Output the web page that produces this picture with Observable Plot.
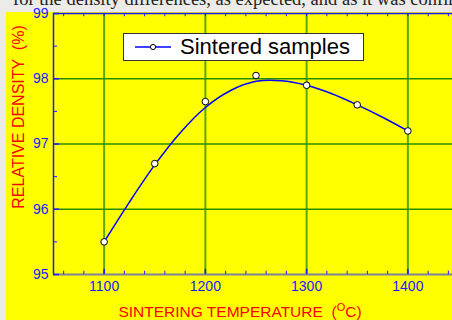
<!DOCTYPE html>
<html>
<head>
<meta charset="utf-8">
<script src="https://cdn.jsdelivr.net/npm/d3@7"></script>
<script src="https://cdn.jsdelivr.net/npm/@observablehq/plot@0.6"></script>
<style>
  html, body { margin: 0; padding: 0; width: 452px; height: 320px; overflow: hidden; background: #ecebe7; }
  #caption { position: absolute; left: 13px; top: -10px; font: 18.5px "Liberation Serif", serif; line-height: 18px; color: #222; white-space: nowrap; }
  #panel { position: absolute; left: 6px; top: 12px; width: 446px; height: 308px; background: #ffff00; }
  #chart { position: absolute; left: 0; top: 0; width: 452px; }
  #chart svg { overflow: visible; background: transparent; max-width: none !important; }
  #legend { position: absolute; left: 117px; top: 21px; width: 239px; height: 26px; background: #fff; border: 1px solid #333; font: 22px Arial, "Liberation Sans", sans-serif; color: #000; }
  #legend svg { position: absolute; left: 11px; top: 6px; }
  #legend span { position: absolute; left: 56px; top: 0px; line-height: 26px; }
  #ytitle { position: absolute; left: 13px; top: 105px; transform: translate(-50%, -50%) rotate(-90deg); font: 16px Arial, "Liberation Sans", sans-serif; color: #ff0000; white-space: pre; }
  #xtitle { position: absolute; left: 234px; top: 291px; transform: translateX(-50%); font: 15.5px Arial, "Liberation Sans", sans-serif; color: #ff0000; white-space: pre; line-height: 18px; }
  #xtitle sup { font-size: 11px; vertical-align: 6px; line-height: 0; }
</style>
</head>
<body>
<div id="panel">
  <div id="chart"></div>
  <div id="legend">
    <svg width="40" height="14"><line x1="0" y1="7" x2="36" y2="7" stroke="#0000ff" stroke-width="1.5"/><circle cx="18" cy="7" r="2.6" fill="#fff" stroke="#000" stroke-width="1"/></svg>
    <span>Sintered samples</span>
  </div>
  <div id="ytitle">RELATIVE DENSITY  (%)</div>
  <div id="xtitle">SINTERING TEMPERATURE  (<sup>O</sup>C)</div>
</div>
<div id="caption">for the density differences, as expected, and as it was confirmed</div>
<script>
// measured samples
const temps = [1100, 1150, 1200, 1250, 1300, 1350, 1400];
const density = [95.5, 96.7, 97.65, 98.05, 97.9, 97.6, 97.2];
// smooth fitted curve
const fitTemps = [1100, 1125, 1150, 1175, 1200, 1225, 1250, 1275, 1300, 1325, 1350, 1375, 1400];
const fitDensity = [95.5, 96.11, 96.68, 97.17, 97.56, 97.82, 97.96, 97.97, 97.9, 97.77, 97.6, 97.41, 97.2];
// ticks
const xMajor = [1100, 1200, 1300, 1400];
const xMinor = d3.range(1060, 1451, 20);
const yMajor = [95, 96, 97, 98, 99];
const yMinor = [95.5, 96.5, 97.5, 98.5];
const xDomain = [1050, 1450];
const yDomain = [95, 99];

const points = temps.map((t, i) => ({t, d: density[i]}));
const fit = fitTemps.map((t, i) => ({t, d: fitDensity[i]}));

const blue = "#1a1aff";
const xTickLen = 0.05;

const chart = Plot.plot({
  width: 452,
  height: 308,
  marginLeft: 47,
  marginRight: 0,
  marginTop: 1,
  marginBottom: 46,
  style: {background: "transparent", overflow: "visible", maxWidth: "none"},
  x: {domain: xDomain},
  y: {domain: yDomain},
  marks: [
    Plot.ruleX(xMajor, {stroke: "#5ca800", strokeWidth: 2}),
    Plot.ruleY(yMajor.filter(v => v > yDomain[0] && v < yDomain[1]), {stroke: "#2a8c00", strokeWidth: 1.5}),
    // frame lines
    Plot.ruleY([yDomain[0]], {stroke: "#8080a0", strokeWidth: 2}),
    Plot.ruleY([yDomain[1]], {stroke: blue, strokeWidth: 1.5}),
    Plot.ruleX([xDomain[0]], {stroke: blue, strokeWidth: 1.5}),
    // inward ticks bottom & top
    Plot.ruleX(xMinor, {y1: yDomain[0], y2: yDomain[0] + xTickLen, stroke: blue, strokeWidth: 1}),
    Plot.ruleX(xMinor, {y1: yDomain[1], y2: yDomain[1] - xTickLen, stroke: blue, strokeWidth: 1}),
    Plot.ruleX(xMajor, {y1: yDomain[0], y2: yDomain[0] + xTickLen * 1.6, stroke: blue, strokeWidth: 1.5}),
    // inward ticks left
    Plot.ruleY(yMinor, {x1: xDomain[0], x2: xDomain[0] + 4, stroke: blue, strokeWidth: 1}),
    Plot.ruleY(yMajor, {x1: xDomain[0], x2: xDomain[0] + 6, stroke: blue, strokeWidth: 1.5}),
    // labels
    Plot.axisX(xMajor, {anchor: "bottom", tickSize: 0, tickPadding: 7, fontSize: 14, fill: blue, tickFormat: d => String(d), label: null, fontFamily: "Arial"}),
    Plot.axisY(yMajor, {anchor: "left", tickSize: 0, tickPadding: 5, fontSize: 14, fill: blue, tickFormat: d => String(d), label: null, fontFamily: "Arial"}),
    // data
    Plot.line(fit, {x: "t", y: "d", curve: "catmull-rom", stroke: "#0000ff", strokeWidth: 1.5}),
    Plot.dot(points, {x: "t", y: "d", r: 3.3, fill: "#fff", stroke: "#000", strokeWidth: 1})
  ]
});
document.getElementById("chart").appendChild(chart);
</script>
</body>
</html>
